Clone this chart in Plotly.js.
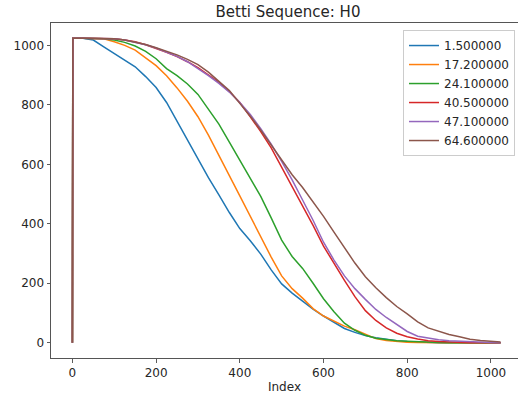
<!DOCTYPE html>
<html>
<head>
<meta charset="utf-8">
<script src="https://cdn.plot.ly/plotly-3.0.1.min.js"></script>
<style>
html,body{margin:0;padding:0;overflow:hidden;background:#fff;}
#chart{width:518px;height:398px;}
</style>
</head>
<body>
<div id="chart"></div>
<script>
const index = [0,1,25,50,75,100,125,150,175,200,225,250,275,300,325,350,375,400,425,450,475,500,525,550,575,600,625,650,675,700,725,750,775,800,825,850,875,900,925,950,975,1000,1023];
const seriesNames = ["1.500000","17.200000","24.100000","40.500000","47.100000","64.600000"];
const s1_5 =  [0,1024,1024,1018,995,972,952,928,895,858,808,745,678,615,555,497,438,384,343,298,245,198,167,140,113,90,68,48,35,24,17,11,7,4,2,1,0,0,0,0,0,0,0];
const s17_2 = [0,1024,1024,1024,1022,1012,1000,984,958,932,898,857,812,760,698,632,562,494,425,352,288,225,182,150,115,90,72,56,44,28,14,8,4,2,1,0,0,0,0,0,0,0,0];
const s24_1 = [0,1024,1024,1024,1022,1018,1010,998,980,955,922,898,870,835,785,735,675,615,555,492,420,345,290,250,200,148,104,66,42,25,15,10,7,5,3,2,1,0,0,0,0,0,0];
const s40_5 = [0,1024,1024,1024,1024,1022,1018,1012,1002,990,977,962,945,925,902,876,845,808,760,710,655,590,528,465,395,325,265,210,155,108,75,50,32,20,13,7,4,2,1,0,0,0,0];
const s47_1 = [0,1024,1024,1024,1024,1022,1018,1011,1002,991,978,963,945,923,898,872,843,808,768,720,668,610,548,480,412,338,278,225,182,146,112,85,62,38,22,15,10,7,5,3,2,1,0];
const s64_6 = [0,1024,1024,1024,1024,1022,1018,1010,1003,992,980,968,953,935,910,880,848,805,762,715,665,612,565,522,475,425,372,320,268,222,185,152,122,97,70,50,38,28,20,12,8,5,3];
const allSeries = [s1_5,s17_2,s24_1,s40_5,s47_1,s64_6];
const colors = ["#1f77b4","#ff7f0e","#2ca02c","#d62728","#9467bd","#8c564b"];

const traces = allSeries.map((ys,i)=>({
  x: index, y: ys, type:"scatter", mode:"lines", name: seriesNames[i],
  line:{color:colors[i], width:1.5}
}));

const F = "DejaVu Sans, sans-serif";
const font = {family:F, size:12, color:"#262626"};
const layout = {
  width:518, height:398,
  margin:{l:51, r:0, t:23, b:40, pad:0},
  paper_bgcolor:"#fff", plot_bgcolor:"#fff",
  font: font,
  title:{text:"Betti Sequence: H0", font:{family:F, size:15, color:"#262626"}, x:0.556, xanchor:"center", y:0.97, yanchor:"middle"},
  showlegend:true,
  legend:{x:0.9936, xanchor:"right", y:0.979, yanchor:"top", bgcolor:"rgba(255,255,255,0.8)", bordercolor:"#cccccc", borderwidth:1, font:{family:F, size:12, color:"#262626"}, tracegroupgap:0, itemwidth:30},
  xaxis:{range:[-51.15,1064.7], tickvals:[0,200,400,600,800,1000], ticks:"outside", ticklen:3.5, tickwidth:0.8, tickcolor:"#333", showgrid:false, zeroline:false, showline:true, linecolor:"#555", linewidth:1, mirror:true, title:{text:"Index", font:{family:F, size:12, color:"#262626"}, standoff:3}, tickfont:font},
  yaxis:{range:[-51.2,1075.2], tickvals:[0,200,400,600,800,1000], ticks:"outside", ticklen:3.5, tickwidth:0.8, tickcolor:"#333", showgrid:false, zeroline:false, showline:true, linecolor:"#555", linewidth:1, mirror:false, tickfont:font}
};
Plotly.newPlot("chart", traces, layout, {displayModeBar:false, staticPlot:true});
</script>
</body>
</html>
